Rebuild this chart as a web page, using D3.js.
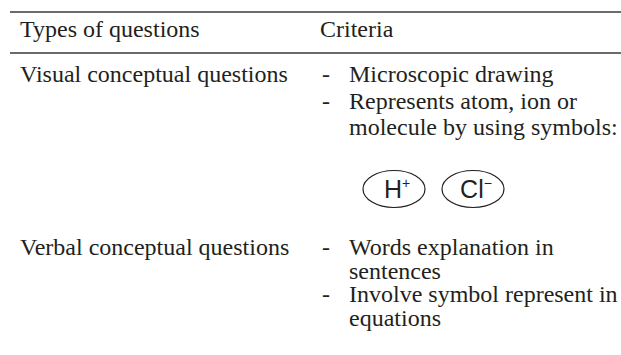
<!DOCTYPE html>
<html>
<head>
<meta charset="utf-8">
<script src="https://cdn.jsdelivr.net/npm/d3@7"></script>
<style>
  html, body { margin: 0; padding: 0; background: #fff; }
  svg text { font-family: "Liberation Serif", "Times New Roman", serif; fill: #231f20; }
  .ion text { font-family: "Liberation Sans", Arial, sans-serif; }
</style>
</head>
<body>
<svg id="table" width="621" height="355"></svg>
<script>
// table content
const headers = ["Types of questions", "Criteria"];
const questionTypes = ["Visual conceptual questions", "Verbal conceptual questions"];
const visualCriteria = [
  ["Microscopic drawing"],
  ["Represents atom, ion or", "molecule by using symbols:"]
];
const verbalCriteria = [
  ["Words explanation in", "sentences"],
  ["Involve symbol represent in", "equations"]
];
const ionSymbols = ["H", "Cl"];
const ionCharges = ["+", "\u2212"];

const W = 621, H = 355,
      fontSize = 24;

const svg = d3.select("#table");

// column positions
let x = d3.scaleOrdinal()
  .domain(["type", "head", "dash", "text"])
  .range([20, 320, 322, 349]);

// baseline for n-th text line inside a row
let line = (start, lh) => d3.scaleLinear().domain([0, 1]).range([start, start + lh]);

// rules
let rules = [12, 53];
svg.selectAll(".rule")
  .data(rules)
  .enter().append("line")
  .attr("class", "rule")
  .attr("x1", 10)
  .attr("x2", W)
  .attr("y1", d => d)
  .attr("y2", d => d)
  .attr("stroke", "#3a3a3a")
  .attr("stroke-width", 1.4);

// header
svg.selectAll(".head")
  .data(headers)
  .enter().append("text")
  .attr("class", "head")
  .attr("x", (d, i) => i === 0 ? x("type") : x("head"))
  .attr("y", 37)
  .attr("font-size", fontSize)
  .text(d => d);

function drawRow(label, items, start, lh) {
  let y = line(start, lh);
  svg.append("text")
    .attr("x", x("type")).attr("y", y(0))
    .attr("font-size", fontSize)
    .text(label);

  let n = 0;
  items.forEach(lines => {
    svg.append("text")
      .attr("x", x("dash")).attr("y", y(n))
      .attr("font-size", fontSize)
      .text("-");
    lines.forEach(t => {
      svg.append("text")
        .attr("x", x("text")).attr("y", y(n))
        .attr("font-size", fontSize)
        .text(t);
      n += 1;
    });
  });
}

drawRow(questionTypes[0], visualCriteria, 82, 26.5);
drawRow(questionTypes[1], verbalCriteria, 255, 23.5);

// ion symbols drawn as ellipses
let ionX = d3.scaleLinear().domain([0, 1]).range([394, 473]);

let ions = svg.selectAll(".ion")
  .data(ionSymbols)
  .enter().append("g")
  .attr("class", "ion")
  .attr("transform", (d, i) => `translate(${ionX(i)},189)`);

ions.append("ellipse")
  .attr("rx", 31)
  .attr("ry", 18.5)
  .attr("fill", "none")
  .attr("stroke", "#231f20")
  .attr("stroke-width", 1.2);

let label = ions.append("text")
  .attr("text-anchor", "middle")
  .attr("x", 3)
  .attr("y", 9)
  .attr("font-size", 25);

label.append("tspan").text(d => d);
label.append("tspan")
  .attr("font-size", 14)
  .attr("dy", -10)
  .text((d, i) => ionCharges[i]);
</script>
</body>
</html>
